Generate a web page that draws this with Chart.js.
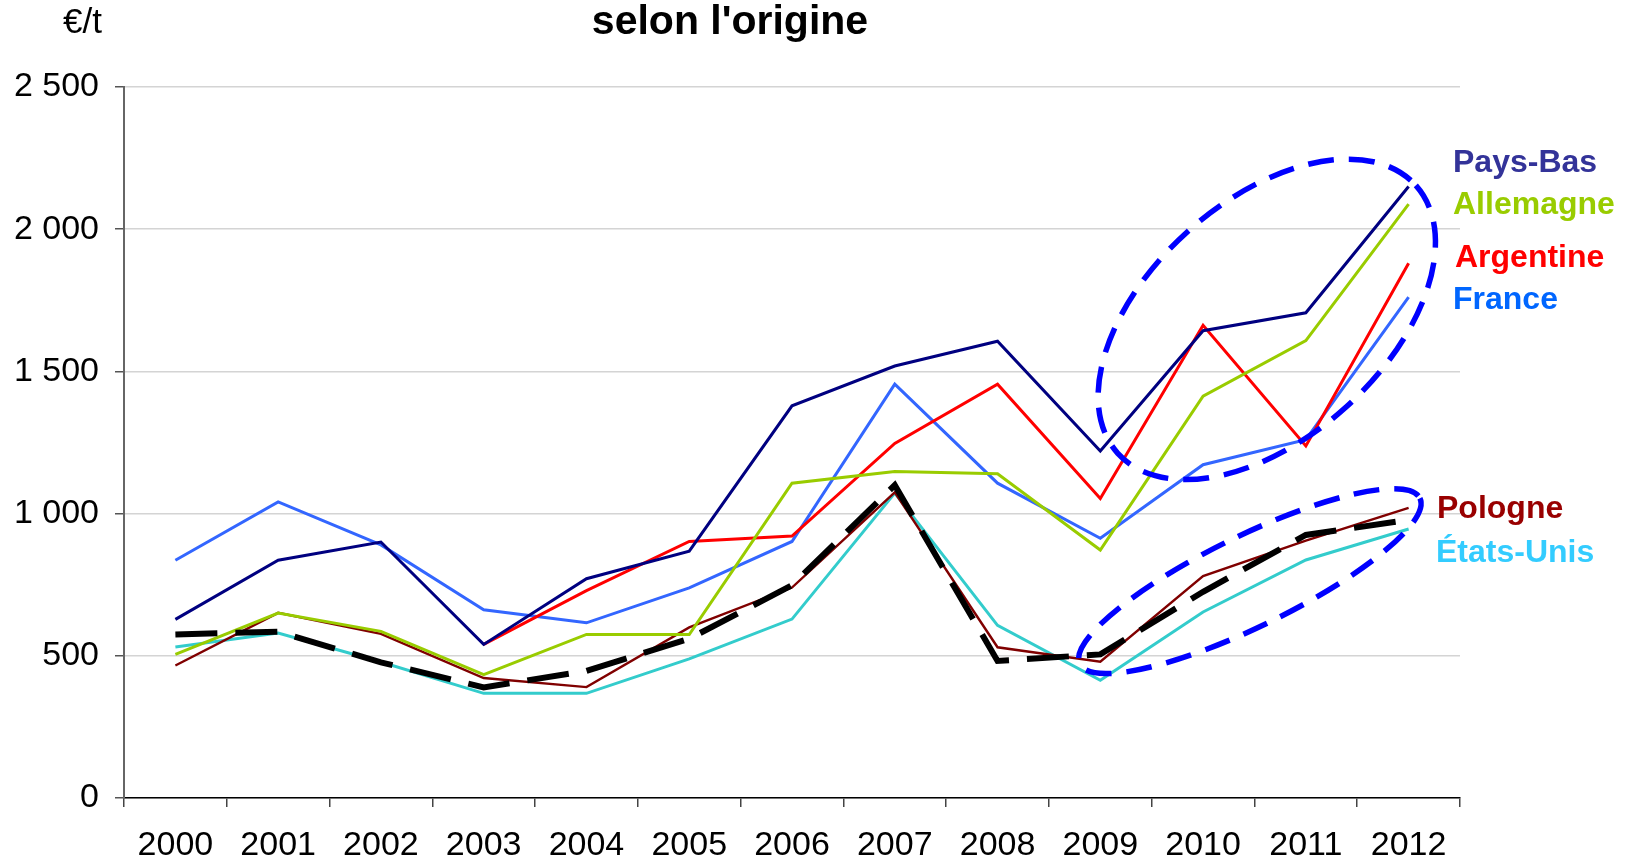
<!DOCTYPE html>
<html lang="fr">
<head>
<meta charset="utf-8">
<title>selon l'origine</title>
<script src="https://cdn.jsdelivr.net/npm/chart.js@4.4.1/dist/chart.umd.min.js"></script>
<style>
    html, body { margin: 0; padding: 0; background: #fff; }
    #wrap { width: 1627px; height: 863px; position: relative; }
</style>
</head>
<body>
<div id="wrap"><canvas id="prixChart"></canvas></div>
<script>
// Data (€/t)
const years = ['2000', '2001', '2002', '2003', '2004', '2005', '2006', '2007', '2008', '2009', '2010', '2011', '2012'];
const paysBas   = [628, 836, 900, 540, 771, 868, 1379, 1519, 1606, 1220, 1643, 1706, 2150];
const allemagne = [505, 650, 586, 434, 575, 575, 1107, 1148, 1140, 872, 1413, 1608, 2088];
const argentine = [null, null, null, 540, 729, 902, 921, 1247, 1455, 1053, 1662, 1238, 1880];
const france    = [836, 1041, 890, 662, 616, 739, 902, 1455, 1107, 913, 1172, 1260, 1761];
const pologne   = [466, 651, 577, 422, 390, 600, 740, 1075, 530, 479, 780, 905, 1020];
const etatsUnis = [531, 580, 478, 368, 368, 489, 629, 1072, 607, 414, 654, 837, 946];
const moyenne   = [575, 585, 477, 389, 447, 560, 748, 1100, 482, 505, 725, 925, 978];
const yTicks = [0, 500, 1000, 1500, 2000, 2500];

document.addEventListener('DOMContentLoaded', () => {
    const FONT = "'Liberation Sans', Arial, Helvetica, sans-serif";

    // Series names written at the right end of the lines
    const endLabels = [
        { text: 'Pays-Bas',   ds: 1, color: '#333399', dx: -7,  dy: -23 },
        { text: 'Allemagne',  ds: 2, color: '#99CC00', dx: -7,  dy: 1 },
        { text: 'Argentine',  ds: 3, color: '#FF0000', dx: -5,  dy: -5 },
        { text: 'France',     ds: 4, color: '#0066FF', dx: -7,  dy: 3 },
        { text: 'Pologne',    ds: 5, color: '#990000', dx: -23, dy: 1 },
        { text: 'États-Unis', ds: 6, color: '#33CCFF', dx: -24, dy: 24 }
    ];

    // Dashed ellipses, major axis given in (category index, value)
    const ellipses = [
        { from: [9.17, 1212], to: [12.07, 2154], ratio: 0.59 },
        { from: [8.80, 471],  to: [12.11, 1054], ratio: 0.24 }
    ];

    const annotations = {
        id: 'annotations',
        afterDatasetsDraw(chart) {
            const { ctx, scales: { x, y } } = chart;
            ctx.save();
            ctx.strokeStyle = '#0000FF';
            ctx.lineWidth = 5.5;
            ctx.setLineDash([26, 15]);
            ellipses.forEach(e => {
                const x1 = x.getPixelForValue(e.from[0]), y1 = y.getPixelForValue(e.from[1]);
                const x2 = x.getPixelForValue(e.to[0]),   y2 = y.getPixelForValue(e.to[1]);
                const a = Math.hypot(x2 - x1, y2 - y1) / 2;
                ctx.beginPath();
                ctx.ellipse((x1 + x2) / 2, (y1 + y2) / 2, a, a * e.ratio, Math.atan2(y2 - y1, x2 - x1), 0, Math.PI * 2);
                ctx.stroke();
            });
            ctx.restore();
        },
        afterDraw(chart) {
            const { ctx, chartArea, scales: { y } } = chart;
            ctx.save();
            ctx.textBaseline = 'middle';

            // unit above the y axis
            ctx.font = `35px ${FONT}`;
            ctx.fillStyle = '#000';
            ctx.textAlign = 'right';
            ctx.fillText('€/t', chartArea.left - 22, 23);

            // series names
            ctx.font = `bold 32px ${FONT}`;
            ctx.textAlign = 'left';
            endLabels.forEach(l => {
                const data = chart.data.datasets[l.ds].data;
                const yy = y.getPixelForValue(data[data.length - 1]);
                ctx.fillStyle = l.color;
                ctx.fillText(l.text, chartArea.right + l.dx, yy + l.dy);
            });
            ctx.restore();
        }
    };

    const line = (label, data, color, width, extra = {}) => Object.assign({
        label, data,
        borderColor: color,
        backgroundColor: color,
        borderWidth: width,
        pointRadius: 0,
        tension: 0,
        fill: false
    }, extra);

    const ctx = document.getElementById('prixChart').getContext('2d');
    new Chart(ctx, {
        type: 'line',
        data: {
            labels: years,
            datasets: [
                line('Moyenne', moyenne, '#000000', 6, { borderDash: [42, 18], borderCapStyle: 'butt' }),
                line('Pays-Bas', paysBas, '#000080', 3),
                line('Allemagne', allemagne, '#99CC00', 3),
                line('Argentine', argentine, '#FF0000', 3),
                line('France', france, '#3366FF', 3),
                line('Pologne', pologne, '#800000', 2.4),
                line('États-Unis', etatsUnis, '#33CCCC', 3)
            ]
        },
        options: {
            responsive: true,
            maintainAspectRatio: false,
            animation: false,
            layout: {
                padding: { left: 0, right: 167, top: 0, bottom: 0 }
            },
            plugins: {
                legend: { display: false },
                tooltip: { enabled: false },
                title: {
                    display: true,
                    text: "selon l'origine",
                    color: '#000',
                    font: { family: FONT, size: 41, weight: 'bold', lineHeight: 1 },
                    padding: { top: 2, bottom: 44 }
                }
            },
            scales: {
                x: {
                    offset: true,
                    afterFit: axis => { axis.height = 65; },
                    border: { color: '#000', width: 1.5 },
                    grid: {
                        offset: true,
                        drawOnChartArea: false,
                        tickLength: 9,
                        tickColor: '#444',
                        lineWidth: 1.5
                    },
                    ticks: {
                        color: '#000',
                        padding: 22,
                        maxRotation: 0,
                        font: { family: FONT, size: 34, lineHeight: 1 }
                    }
                },
                y: {
                    min: 0,
                    max: 2500,
                    afterFit: axis => { axis.width = 124; },
                    afterBuildTicks: axis => { axis.ticks = yTicks.map(v => ({ value: v })); },
                    border: { color: '#666', width: 2 },
                    grid: {
                        color: '#D4D4D4',
                        lineWidth: 1.5,
                        tickLength: 9,
                        tickColor: '#555'
                    },
                    ticks: {
                        color: '#000',
                        padding: 16,
                        font: { family: FONT, size: 34, lineHeight: 1 },
                        callback: v => v.toLocaleString('fr-FR').replace(/[\u202F\u00A0]/g, ' ')
                    }
                }
            }
        },
        plugins: [annotations]
    });
});
</script>
</body>
</html>
